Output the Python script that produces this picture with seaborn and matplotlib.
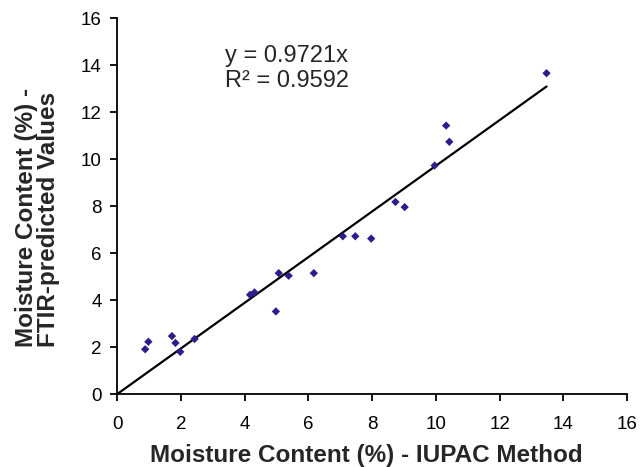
import numpy as np
import pandas as pd
import matplotlib
matplotlib.use("Agg")
import matplotlib.pyplot as plt
import seaborn as sns

# Moisture content: reference method vs FTIR prediction
iupac = [0.88, 0.98, 1.72, 1.83, 1.98, 2.43, 4.17, 4.31, 4.98, 5.07, 5.38, 6.17,
         7.08, 7.47, 7.97, 8.73, 9.02, 9.96, 10.32, 10.42, 13.47]
ftir = [1.91, 2.23, 2.47, 2.18, 1.80, 2.35, 4.23, 4.33, 3.52, 5.15, 5.04, 5.15,
        6.72, 6.72, 6.62, 8.18, 7.96, 9.73, 11.43, 10.74, 13.66]
slope = 0.9721
r_squared = 0.9592
ticks = [0, 2, 4, 6, 8, 10, 12, 14, 16]

df = pd.DataFrame({"iupac": iupac, "ftir": ftir})

sns.set_style("ticks")
plt.rcParams["font.family"] = ["Liberation Sans", "DejaVu Sans"]

fig = plt.figure(figsize=(6.4, 4.67), dpi=100)
ax = fig.add_axes([0.183, 0.156, 0.797, 0.805])

# Trendline through the origin, up to the largest observation
xfit = np.array([0.0, max(iupac)])
ax.plot(xfit, slope * xfit, color="black", lw=1.6, zorder=2)

sns.scatterplot(data=df, x="iupac", y="ftir", ax=ax, marker="D", s=18,
                color="#2b1d8c", edgecolor="none", zorder=3)

ax.set_xlim(0, 16)
ax.set_ylim(0, 16)
ax.set_xticks(ticks)
ax.set_yticks(ticks)
ax.tick_params(axis="both", direction="out", length=5, width=1.3,
               labelsize=13.5, colors="black")
ax.tick_params(axis="x", pad=11)
ax.tick_params(axis="y", pad=6)
for side in ["top", "right"]:
    ax.spines[side].set_visible(False)
for side in ["left", "bottom"]:
    ax.spines[side].set_linewidth(1.3)
    ax.spines[side].set_color("black")

ax.set_xlabel("Moisture Content (%) - IUPAC Method", fontsize=17.5,
              fontweight="bold", va="baseline", ha="center")
ax.xaxis.set_label_coords(0.488, -0.181)
ax.set_ylabel("Moisture Content (%) -\nFTIR-predicted Values", fontsize=17.5,
              fontweight="bold", va="center", ha="center",
              multialignment="left", linespacing=0.97)
ax.yaxis.set_label_coords(-0.156, 0.469)

ax.text(3.39, 14.13, f"y = {slope}x", fontsize=17, va="baseline", ha="left")
ax.text(3.39, 13.06, f"R² = {r_squared}", fontsize=17, va="baseline", ha="left")

fig.savefig("out.png", dpi=100)
